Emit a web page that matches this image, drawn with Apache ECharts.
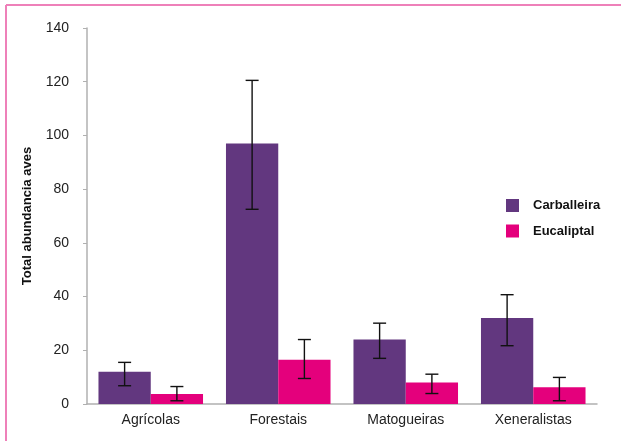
<!DOCTYPE html>
<html>
<head>
<meta charset="utf-8">
<script src="https://cdn.jsdelivr.net/npm/echarts@6/dist/echarts.min.js"></script>
<style>
  html, body { margin: 0; padding: 0; background: #fff; }
  #chart { width: 621px; height: 441px; }
</style>
</head>
<body>
<div id="chart"></div>
<script>
// Bird abundance by guild, oak woodland vs eucalyptus plantation
var categories = ['Agrícolas', 'Forestais', 'Matogueiras', 'Xeneralistas'];
var seriesNames = ['Carballeira', 'Eucaliptal'];
var carballeira = [12, 97, 24, 32];
var carballeiraLow = [6.8, 72.5, 17, 21.7];
var carballeiraHigh = [15.5, 120.5, 30.1, 40.7];
var eucaliptal = [3.7, 16.5, 8, 6.2];
var eucaliptalLow = [1.2, 9.5, 3.9, 1.2];
var eucaliptalHigh = [6.5, 24, 11.1, 9.9];
var yTicks = [0, 20, 40, 60, 80, 100, 120, 140];

var colors = ['#62377f', '#e4007c'];
var categoryGap = 0.18;
var labelFont = "'Liberation Sans Narrow', 'Arial Narrow', 'Liberation Sans', Arial, sans-serif";
var regular = "'Liberation Sans', Arial, sans-serif";

// Error bars drawn through the category axis; side = -1 left bar, +1 right bar
function errorSeries(lows, highs, side) {
  var data = categories.map(function (c, i) { return [i, lows[i], highs[i]]; });
  return {
    type: 'custom',
    silent: true,
    z: 10,
    renderItem: function (params, api) {
      var idx = api.value(0);
      var lo = api.coord([idx, api.value(1)]);
      var hi = api.coord([idx, api.value(2)]);
      var bandW = api.size([1, 0])[0];
      var barW = bandW * (1 - categoryGap) / 2;
      var x = lo[0] + side * barW / 2;
      var cap = 6.5;
      var style = { stroke: '#111', lineWidth: 1.4 };
      return {
        type: 'group',
        children: [
          { type: 'line', shape: { x1: x, y1: hi[1], x2: x, y2: lo[1] }, style: style },
          { type: 'line', shape: { x1: x - cap, y1: hi[1], x2: x + cap, y2: hi[1] }, style: style },
          { type: 'line', shape: { x1: x - cap, y1: lo[1], x2: x + cap, y2: lo[1] }, style: style }
        ]
      };
    },
    data: data
  };
}

var chart = echarts.init(document.getElementById('chart'), null, { renderer: 'canvas' });
chart.setOption({
  animation: false,
  backgroundColor: '#ffffff',
  color: colors,
  graphic: [
    { type: 'line', shape: { x1: 6, y1: 5, x2: 621, y2: 5 }, style: { stroke: '#ee80b9', lineWidth: 2 } },
    { type: 'line', shape: { x1: 6, y1: 5, x2: 6, y2: 441 }, style: { stroke: '#ee80b9', lineWidth: 2 } }
  ],
  grid: { left: 87, right: 24, top: 28, bottom: 37 },
  legend: {
    orient: 'vertical',
    left: 506,
    top: 199,
    padding: 0,
    itemWidth: 13,
    itemHeight: 13,
    itemGap: 12.5,
    icon: 'rect',
    data: seriesNames,
    textStyle: { fontFamily: regular, fontWeight: 'bold', fontSize: 13, color: '#111', padding: [0, 0, 0, 9] }
  },
  xAxis: {
    type: 'category',
    data: categories,
    axisLine: { lineStyle: { color: '#b0b0b0', width: 1.5 } },
    axisTick: { show: false },
    axisLabel: { fontFamily: labelFont, fontSize: 14, color: '#222', margin: 9 }
  },
  yAxis: {
    type: 'value',
    min: yTicks[0],
    max: yTicks[yTicks.length - 1],
    interval: 20,
    name: 'Total abundancia aves',
    nameLocation: 'middle',
    nameGap: 53,
    nameTextStyle: { fontFamily: regular, fontWeight: 'bold', fontSize: 13, color: '#111' },
    axisLine: { show: true, lineStyle: { color: '#b0b0b0', width: 1.5 } },
    axisTick: { show: true, length: 4, lineStyle: { color: '#b0b0b0' } },
    splitLine: { show: false },
    axisLabel: { fontFamily: labelFont, fontSize: 14, color: '#222', margin: 18 }
  },
  series: [
    { name: seriesNames[0], type: 'bar', data: carballeira, barGap: '0%', barCategoryGap: (categoryGap * 100) + '%', itemStyle: { color: colors[0] } },
    { name: seriesNames[1], type: 'bar', data: eucaliptal, barGap: '0%', barCategoryGap: (categoryGap * 100) + '%', itemStyle: { color: colors[1] } },
    errorSeries(carballeiraLow, carballeiraHigh, -1),
    errorSeries(eucaliptalLow, eucaliptalHigh, 1)
  ]
});
</script>
</body>
</html>
